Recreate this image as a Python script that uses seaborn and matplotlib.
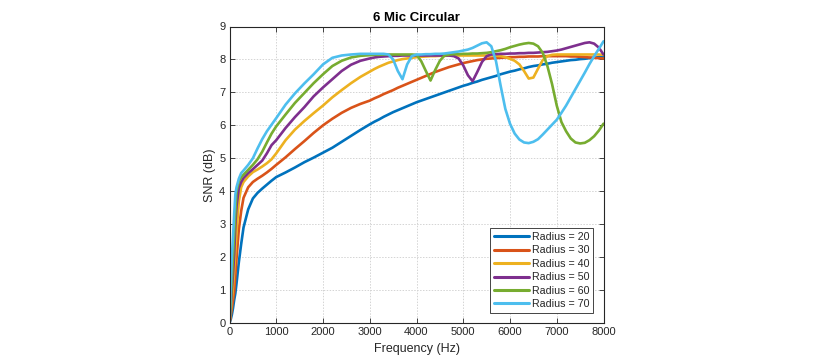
import numpy as np
import pandas as pd
import matplotlib
matplotlib.use("Agg")
import matplotlib.pyplot as plt
import seaborn as sns

# ---------------- data ----------------
freq_low = [0, 25, 50, 75, 100, 125, 150, 200, 250, 300, 400, 500, 600, 700, 800, 900, 1000]
freq_mid = [1200, 1400, 1600, 1800, 2000, 2200, 2400, 2600, 2800, 3000]
freq_high = [3100, 3200, 3300, 3400, 3500, 3600, 3700, 3800, 3900, 4000,
             4100, 4200, 4300, 4400, 4500, 4600, 4700, 4800, 4900, 5000,
             5100, 5200, 5300, 5400, 5500, 5600, 5700, 5800, 5900, 6000,
             6100, 6200, 6300, 6400, 6500, 6600, 6700, 6800, 6900, 7000,
             7100, 7200, 7300, 7400, 7500, 7600, 7700, 7800, 7900, 8000]
frequency = freq_low + freq_mid + freq_high

radii = [20, 30, 40, 50, 60, 70]

snr_r20 = [0.0, 0.1, 0.25, 0.45, 0.7, 0.9, 1.2, 1.85, 2.4, 2.9, 3.45, 3.78, 3.95, 4.08, 4.2, 4.32, 4.43,
           4.57, 4.72, 4.88, 5.02, 5.17, 5.32, 5.5, 5.68, 5.86, 6.03,
           6.11, 6.18, 6.26, 6.33, 6.40, 6.46, 6.52, 6.58, 6.64, 6.70,
           6.75, 6.80, 6.85, 6.90, 6.95, 7.00, 7.05, 7.10, 7.15, 7.20,
           7.24, 7.29, 7.33, 7.38, 7.42, 7.46, 7.50, 7.55, 7.59, 7.63,
           7.66, 7.70, 7.73, 7.77, 7.80, 7.82, 7.85, 7.87, 7.90, 7.92,
           7.94, 7.96, 7.98, 7.99, 8.01, 8.02, 8.04, 8.05, 8.07, 8.08]

snr_r30 = [0.0, 0.2, 0.45, 0.7, 0.95, 1.45, 1.95, 2.85, 3.4, 3.8, 4.12, 4.28, 4.38, 4.47, 4.57, 4.68, 4.8,
           5.03, 5.28, 5.52, 5.77, 6.0, 6.2, 6.38, 6.53, 6.65, 6.75,
           6.82, 6.88, 6.95, 7.01, 7.07, 7.14, 7.20, 7.26, 7.32, 7.38,
           7.44, 7.50, 7.56, 7.62, 7.67, 7.72, 7.77, 7.81, 7.85, 7.89,
           7.92, 7.95, 7.98, 8.00, 8.02, 8.03, 8.04, 8.05, 8.06, 8.07,
           8.07, 8.08, 8.08, 8.09, 8.09, 8.09, 8.10, 8.10, 8.10, 8.10,
           8.10, 8.10, 8.09, 8.09, 8.08, 8.07, 8.06, 8.05, 8.04, 8.03]

snr_r40 = [0.0, 0.3, 0.7, 1.1, 1.6, 2.15, 2.75, 3.7, 4.12, 4.28, 4.45, 4.58, 4.66, 4.75, 4.85, 4.97, 5.15,
           5.55, 5.87, 6.13, 6.37, 6.6, 6.85, 7.07, 7.28, 7.47, 7.63,
           7.71, 7.78, 7.84, 7.90, 7.94, 7.98, 8.01, 8.03, 8.05, 8.07,
           8.08, 8.09, 8.10, 8.10, 8.11, 8.11, 8.12, 8.12, 8.12, 8.12,
           8.12, 8.12, 8.12, 8.12, 8.12, 8.12, 8.11, 8.10, 8.07, 8.02,
           7.96, 7.85, 7.65, 7.42, 7.45, 7.72, 7.98, 8.10, 8.14, 8.15,
           8.15, 8.15, 8.15, 8.15, 8.15, 8.15, 8.15, 8.15, 8.15, 8.14]

snr_r50 = [0.0, 0.45, 1.0, 1.5, 2.1, 3.0, 3.55, 4.1, 4.28, 4.4, 4.55, 4.67, 4.8, 4.93, 5.15, 5.4, 5.55,
           5.92, 6.25, 6.55, 6.88, 7.15, 7.4, 7.65, 7.84, 7.96, 8.03,
           8.06, 8.08, 8.09, 8.10, 8.11, 8.11, 8.12, 8.12, 8.12, 8.12,
           8.12, 8.12, 8.12, 8.12, 8.12, 8.12, 8.12, 8.10, 8.03, 7.82,
           7.52, 7.34, 7.62, 7.92, 8.10, 8.15, 8.16, 8.17, 8.17, 8.18,
           8.18, 8.19, 8.19, 8.20, 8.20, 8.21, 8.22, 8.23, 8.25, 8.27,
           8.30, 8.34, 8.38, 8.42, 8.46, 8.50, 8.52, 8.48, 8.36, 8.15]

snr_r60 = [0.0, 0.6, 1.3, 2.0, 2.7, 3.35, 4.0, 4.3, 4.42, 4.5, 4.65, 4.8, 4.97, 5.2, 5.48, 5.75, 5.97,
           6.33, 6.68, 6.98, 7.28, 7.55, 7.8, 7.96, 8.06, 8.11, 8.13,
           8.14, 8.14, 8.15, 8.15, 8.15, 8.15, 8.15, 8.15, 8.15, 8.14,
           7.95, 7.65, 7.36, 7.68, 7.96, 8.12, 8.15, 8.16, 8.16, 8.17,
           8.17, 8.18, 8.18, 8.19, 8.20, 8.22, 8.25, 8.28, 8.32, 8.37,
           8.41, 8.45, 8.48, 8.50, 8.48, 8.40, 8.20, 7.80, 7.25, 6.60,
           6.10, 5.82, 5.60, 5.48, 5.45, 5.47, 5.55, 5.67, 5.84, 6.05]

snr_r70 = [0.0, 1.0, 2.0, 2.6, 3.3, 3.9, 4.12, 4.38, 4.55, 4.63, 4.8, 5.0, 5.3, 5.58, 5.82, 6.02, 6.22,
           6.63, 6.97, 7.27, 7.55, 7.85, 8.05, 8.12, 8.15, 8.17, 8.17,
           8.17, 8.17, 8.17, 8.15, 8.00, 7.65, 7.40, 7.85, 8.10, 8.15,
           8.15, 8.16, 8.16, 8.17, 8.17, 8.18, 8.20, 8.22, 8.24, 8.27,
           8.30, 8.35, 8.42, 8.49, 8.52, 8.40, 7.95, 7.20, 6.50, 6.05,
           5.75, 5.57, 5.48, 5.46, 5.50, 5.58, 5.72, 5.87, 6.02, 6.17,
           6.38, 6.60, 6.85, 7.10, 7.35, 7.60, 7.86, 8.10, 8.32, 8.55]

series = [snr_r20, snr_r30, snr_r40, snr_r50, snr_r60, snr_r70]
labels = [f"Radius = {r}" for r in radii]

x_ticks = [0, 1000, 2000, 3000, 4000, 5000, 6000, 7000, 8000]
y_ticks = [0, 1, 2, 3, 4, 5, 6, 7, 8, 9]

rows = []
for lab, vals in zip(labels, series):
    for f, v in zip(frequency, vals):
        rows.append((f, v, lab))
df = pd.DataFrame(rows, columns=["Frequency", "SNR", "Radius"])

# ---------------- style ----------------
sns.set_theme(style="white")
plt.rcParams["font.family"] = ["Liberation Sans", "DejaVu Sans"]
axis_col = "#262626"

colors = ["#0072BD", "#D95319", "#EDB120", "#7E2F8E", "#77AC30", "#4DBEEE"]

fig = plt.figure(figsize=(8.14, 3.61), dpi=100)
ax = fig.add_axes([229.5 / 814, 1 - 323 / 361, (603.5 - 229.5) / 814, (323 - 26.5) / 361])

sns.lineplot(data=df, x="Frequency", y="SNR", hue="Radius", hue_order=labels,
             palette=colors, linewidth=1.9, ax=ax, sort=False, estimator=None)

ax.set_xlim(0, 8000)
ax.set_ylim(0, 9)
ax.set_xticks(x_ticks)
ax.set_yticks(y_ticks)
ax.set_xticklabels([str(t) for t in x_ticks])
ax.set_yticklabels([str(t) for t in y_ticks])
ax.grid(True, linestyle=(0, (1.5, 1.5)), color="#d4d4d4", linewidth=0.7)
ax.set_axisbelow(True)
for s in ax.spines.values():
    s.set_visible(True)
    s.set_color(axis_col)
    s.set_linewidth(0.8)
ax.tick_params(axis="both", which="both", direction="in", length=3.5, width=0.6,
               colors=axis_col, labelsize=8, top=True, right=True,
               bottom=True, left=True, pad=3)

ax.set_xlabel("Frequency (Hz)", fontsize=9, color=axis_col, labelpad=4)
ax.set_ylabel("SNR (dB)", fontsize=9, color=axis_col, labelpad=2.5)
ax.set_title("6 Mic Circular", fontsize=9.5, fontweight="bold", color="black", pad=4)

leg = ax.legend(loc="lower right", fontsize=7.7, frameon=True, fancybox=False,
                edgecolor=axis_col, framealpha=1, handlelength=3.3, handletextpad=0.3,
                labelspacing=0.32, borderpad=0.35, borderaxespad=0.95, title=None)
leg.get_frame().set_linewidth(0.6)
for line in leg.get_lines():
    line.set_linewidth(2.2)

fig.savefig("out.png", dpi=100, facecolor="white")
